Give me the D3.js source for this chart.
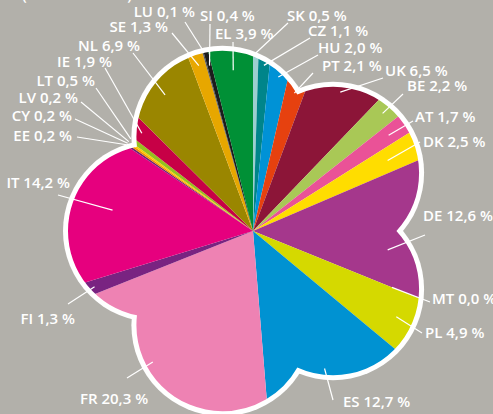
<!DOCTYPE html>
<html>
<head>
<meta charset="utf-8">
<script src="https://cdn.jsdelivr.net/npm/d3@7"></script>
<style>
  body { margin: 0; background: #b2b0aa; }
  svg { display: block; }
</style>
</head>
<body>
<svg></svg>
<script>
// countries, clockwise from 12 o'clock
const countries = ["SK", "CZ", "HU", "PT", "UK", "BE", "AT", "DK", "DE", "MT", "PL", "ES", "FR",
  "FI", "IT", "EE", "CY", "LV", "LT", "IE", "NL", "SE", "LU", "SI", "EL"];
const shares = [0.5, 1.1, 2.0, 2.1, 6.5, 2.2, 1.7, 2.5, 12.6, 0.0, 4.9, 12.7, 20.3,
  1.3, 14.2, 0.2, 0.2, 0.2, 0.5, 1.9, 6.9, 1.3, 0.1, 0.4, 3.9];
const colours = ["#9ccfcf", "#00858a", "#0092d6", "#e6410f", "#8c1538", "#a9c856", "#ea5297", "#ffdd00",
  "#a5378c", "#ffffff", "#d5d900", "#0092d2", "#ee82b3", "#792381", "#e6007e", "#6d2077", "#f39200",
  "#fecc00", "#95c11f", "#c70046", "#9a8600", "#e7a700", "#555555", "#1c1c1c", "#009036"];

// where each label sits (text pos, anchor, leader inner radius, leader outer end)
const labelPos = {
  SK: { x: 287, y: 20.5, a: "start", r: 178, to: [288, 23] },
  CZ: { x: 308, y: 36, a: "start", r: 166, to: [310, 38] },
  HU: { x: 318, y: 53, a: "start", r: 156, to: [318, 55] },
  PT: { x: 322, y: 71, a: "start", r: 144, to: [313, 73] },
  UK: { x: 385, y: 76, a: "start", r: 164, to: [383, 78] },
  BE: { x: 407, y: 91, a: "start", r: 175, to: [403, 94] },
  AT: { x: 415, y: 122, a: "start", r: 166, to: [413, 121] },
  DK: { x: 423, y: 147, a: "start", r: 152, to: [420, 142] },
  DE: { x: 423, y: 221, a: "start", r: 136, to: [425, 235], da: 8.5 },
  MT: { x: 432, y: 303.5, a: "start", r: 150, to: [430, 302] },
  PL: { x: 425, y: 338, a: "start", r: 167, to: [422, 333] },
  ES: { x: 343, y: 407, a: "start", r: 155, to: [333, 400] },
  FR: { x: 80, y: 404, a: "start", r: 165, to: [127, 378], da: 5.6 },
  FI: { x: 75, y: 324, a: "end", r: 168, to: [68, 304] },
  IT: { x: 70, y: 188, a: "end", r: 142, to: [58, 195] },
  EE: { x: 72, y: 141, a: "end", r: 153, to: [77, 137] },
  CY: { x: 72, y: 121, a: "end", r: 153, to: [75, 119] },
  LV: { x: 78, y: 103, a: "end", r: 153, to: [81, 102] },
  LT: { x: 95, y: 86, a: "end", r: 153, to: [96, 88] },
  IE: { x: 112, y: 66.5, a: "end", r: 148, to: [105, 68] },
  NL: { x: 140, y: 50.5, a: "end", r: 162, to: [133, 53] },
  SE: { x: 168, y: 32, a: "end", r: 174, to: [172, 33] },
  LU: { x: 195, y: 17, a: "end", r: 189, to: [185, 22] },
  SI: { x: 200, y: 20.5, a: "start", r: 171, to: [210, 24] },
  EL: { x: 215, y: 39, a: "start", r: 162, to: [233, 42] }
};

const W = 493, H = 414;
const cx = 253, cy = 231;
const lobeDist = 99, lobeR = 86, border = 5;
const lobeAngles = [-18, 54, 126, 198, 270];

const data = countries.map((c, i) => ({ c: c, v: shares[i], col: colours[i] }));
const fmt = d3.formatLocale({ decimal: ",", thousands: "." }).format(".1f");
const rad = d => d * Math.PI / 180;

const svg = d3.select("svg").attr("width", W).attr("height", H);

// cut-off subtitle at the very top
svg.append("text")
  .attr("x", 22).attr("y", -0.5)
  .attr("font-family", "Open Sans").attr("font-weight", 600).attr("font-size", 15)
  .attr("fill", "#fff")
  .text("(EU-28 = 100 %)");

// flower outline: five lobes plus a hub circle filling the middle
const lobes = lobeAngles.map(a => [cx + lobeDist * Math.sin(rad(a)), cy - lobeDist * Math.cos(rad(a)), lobeR]);
lobes.push([cx, cy, 110]);

svg.append("clipPath").attr("id", "flower")
  .selectAll("circle").data(lobes).join("circle")
  .attr("cx", d => d[0]).attr("cy", d => d[1]).attr("r", d => d[2]);

// white border = slightly larger circles behind
svg.append("g").selectAll("circle").data(lobes).join("circle")
  .attr("cx", d => d[0]).attr("cy", d => d[1]).attr("r", d => d[2] + border)
  .attr("fill", "#fff");

const pie = d3.pie().sort(null).value(d => d.v);
const arcs = pie(data);
const arc = d3.arc().innerRadius(0).outerRadius(230);

svg.append("g")
  .attr("clip-path", "url(#flower)")
  .append("g")
  .attr("transform", `translate(${cx},${cy})`)
  .selectAll("path").data(arcs).join("path")
  .attr("d", arc)
  .attr("fill", d => d.data.col);

// leader lines
const lines = svg.append("g").attr("stroke", "#fff").attr("stroke-width", 1.2).attr("fill", "none");
arcs.forEach(d => {
  const p = labelPos[d.data.c];
  const a = (d.startAngle + d.endAngle) / 2 + rad(p.da || 0);
  lines.append("line")
    .attr("x1", cx + p.r * Math.sin(a)).attr("y1", cy - p.r * Math.cos(a))
    .attr("x2", p.to[0]).attr("y2", p.to[1]);
});

// labels
svg.append("g")
  .attr("font-family", "Open Sans").attr("font-weight", 600).attr("font-size", 15)
  .attr("fill", "#fff")
  .selectAll("text").data(data).join("text")
  .attr("x", d => labelPos[d.c].x)
  .attr("y", d => labelPos[d.c].y)
  .attr("text-anchor", d => labelPos[d.c].a)
  .text(d => `${d.c} ${fmt(d.v)} %`);
</script>
</body>
</html>
